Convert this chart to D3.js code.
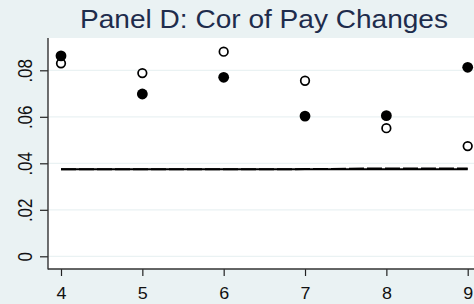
<!DOCTYPE html>
<html>
<head>
<meta charset="utf-8">
<script src="https://cdn.jsdelivr.net/npm/d3@7"></script>
<style>
html,body{margin:0;padding:0;background:#eaf2f3;}
svg{display:block;}
text{font-family:"Liberation Sans",Arial,sans-serif;}
</style>
</head>
<body>
<svg id="c" width="474" height="304"></svg>
<script>
const xCats = [4, 5, 6, 7, 8, 9];
const filledVals = [0.0862, 0.0698, 0.0770, 0.0603, 0.0605, 0.0813];
const hollowVals = [0.0830, 0.0788, 0.0880, 0.0755, 0.0551, 0.0474];
const solidLine = [0.0374, 0.0374, 0.0374, 0.0374, 0.0374, 0.0374];
const dashedLine = [0.0374, 0.0374, 0.0374, 0.0375, 0.0378, 0.0378];
const yTicks = [0, 0.02, 0.04, 0.06, 0.08];
const yTickLabels = ["0", ".02", ".04", ".06", ".08"];
const xTicks = [4, 5, 6, 7, 8, 9];
const title = "Panel D: Cor of Pay Changes";

const W = 474, H = 304;
const plot = {left: 48, top: 38, right: 474, bottom: 269};
const svg = d3.select("#c");

svg.append("rect").attr("width", W).attr("height", H).attr("fill", "#eaf2f3");
svg.append("rect").attr("x", plot.left).attr("y", plot.top)
  .attr("width", plot.right - plot.left).attr("height", plot.bottom - plot.top)
  .attr("fill", "#ffffff");

const x = d3.scaleLinear().domain([4, 9]).range([61, 467.7]);
const y = d3.scaleLinear().domain([0, 0.08]).range([256.3, 70.3]);

// gridlines
svg.append("g").selectAll("line").data(yTicks).join("line")
  .attr("x1", plot.left).attr("x2", plot.right)
  .attr("y1", d => y(d)).attr("y2", d => y(d))
  .attr("stroke", "#eaf2f3").attr("stroke-width", 1.2);

// axes
const yAxis = svg.append("g").attr("transform", `translate(${plot.left},0)`)
  .call(d3.axisLeft(y).tickValues(yTicks).tickSize(8).tickFormat((d, i) => yTickLabels[i]));
const xAxis = svg.append("g").attr("transform", `translate(0,${plot.bottom})`)
  .call(d3.axisBottom(x).tickValues(xTicks).tickSize(7).tickFormat(d3.format("d")));
[yAxis, xAxis].forEach(a => {
  a.select(".domain").remove();
  a.selectAll(".tick line").attr("stroke", "#222").attr("stroke-width", 1.2);
});
xAxis.selectAll(".tick text").attr("font-size", 16).attr("fill", "#111")
  .attr("y", 0).attr("dy", 0)
  .attr("transform", "translate(0,29.5) scale(1.12,1)");
yAxis.selectAll(".tick text").attr("font-size", 17).attr("fill", "#111")
  .attr("x", 0).attr("dy", 0).attr("text-anchor", "middle")
  .attr("transform", "translate(-16.5,0) scale(1.15,1) rotate(-90)");

// axis lines
svg.append("line").attr("x1", plot.left).attr("x2", plot.left)
  .attr("y1", plot.top).attr("y2", plot.bottom + 0.6)
  .attr("stroke", "#333").attr("stroke-width", 1.4);
svg.append("line").attr("x1", plot.left).attr("x2", plot.right)
  .attr("y1", plot.bottom).attr("y2", plot.bottom)
  .attr("stroke", "#333").attr("stroke-width", 1.4);

// lines
const lineGen = d3.line().x((d, i) => x(xCats[i])).y(d => y(d));
svg.append("path").datum(solidLine).attr("d", lineGen)
  .attr("fill", "none").attr("stroke", "#000").attr("stroke-width", 2);
svg.append("path").datum(dashedLine).attr("d", lineGen)
  .attr("fill", "none").attr("stroke", "#000").attr("stroke-width", 2)
  .attr("stroke-dasharray", "15,3");

// points
svg.append("g").selectAll("circle").data(hollowVals).join("circle")
  .attr("cx", (d, i) => x(xCats[i])).attr("cy", d => y(d)).attr("r", 4.3)
  .attr("fill", "none").attr("stroke", "#000").attr("stroke-width", 1.7);
svg.append("g").selectAll("circle").data(filledVals).join("circle")
  .attr("cx", (d, i) => x(xCats[i])).attr("cy", d => y(d)).attr("r", 5.4)
  .attr("fill", "#000");

// title
svg.append("text").attr("x", 264).attr("y", 28).attr("text-anchor", "middle")
  .attr("font-size", 25).attr("fill", "#1e2c4c")
  .attr("textLength", 368).attr("lengthAdjust", "spacingAndGlyphs")
  .text(title);
</script>
</body>
</html>
